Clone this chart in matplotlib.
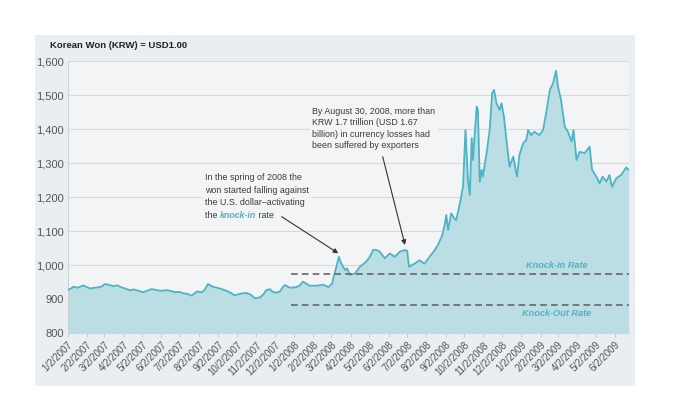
import matplotlib
matplotlib.use("Agg")
import matplotlib.pyplot as plt
from matplotlib.patches import Rectangle
import pandas as pd

# KRW per USD
dates = [
    "2007-01-02", "2007-01-08", "2007-01-11", "2007-01-18", "2007-01-27",
    "2007-02-07", "2007-02-18", "2007-02-25", "2007-03-03", "2007-03-09",
    "2007-03-16", "2007-03-23", "2007-03-30", "2007-04-06", "2007-04-12",
    "2007-04-19", "2007-04-26", "2007-05-04", "2007-05-10", "2007-05-17",
    "2007-05-24", "2007-05-31", "2007-06-10", "2007-06-17", "2007-06-24",
    "2007-07-01", "2007-07-07", "2007-07-14", "2007-07-21", "2007-07-29",
    "2007-08-06", "2007-08-10", "2007-08-16", "2007-08-20", "2007-08-24",
    "2007-09-04", "2007-09-15", "2007-09-22", "2007-09-28", "2007-10-09",
    "2007-10-16", "2007-10-23", "2007-10-31", "2007-11-08", "2007-11-14",
    "2007-11-18", "2007-11-24", "2007-11-29", "2007-12-05", "2007-12-10",
    "2007-12-15", "2007-12-18", "2007-12-26",
    "2008-01-06", "2008-01-11", "2008-01-16", "2008-01-22", "2008-01-27",
    "2008-02-07", "2008-02-18", "2008-02-26", "2008-03-03", "2008-03-05",
    "2008-03-10", "2008-03-14", "2008-03-18", "2008-03-24", "2008-03-27",
    "2008-04-01", "2008-04-09", "2008-04-17", "2008-04-27", "2008-05-03",
    "2008-05-08", "2008-05-13", "2008-05-19", "2008-05-27", "2008-06-04",
    "2008-06-12", "2008-06-20", "2008-06-28", "2008-07-02", "2008-07-05",
    "2008-07-14", "2008-07-22", "2008-07-30", "2008-08-07", "2008-08-14",
    "2008-08-21", "2008-08-28", "2008-09-01", "2008-09-03", "2008-09-06",
    "2008-09-11", "2008-09-15", "2008-09-19", "2008-09-25", "2008-09-30",
    "2008-10-04", "2008-10-08", "2008-10-11", "2008-10-14", "2008-10-16",
    "2008-10-22", "2008-10-24", "2008-10-27", "2008-10-30", "2008-11-01",
    "2008-11-07", "2008-11-12", "2008-11-16", "2008-11-19", "2008-11-23",
    "2008-11-28", "2008-12-01", "2008-12-05", "2008-12-09", "2008-12-14",
    "2008-12-20", "2008-12-26", "2008-12-30",
    "2009-01-05", "2009-01-10", "2009-01-13", "2009-01-18", "2009-01-23",
    "2009-01-31", "2009-02-06", "2009-02-11", "2009-02-17", "2009-02-22",
    "2009-02-27", "2009-03-02", "2009-03-07", "2009-03-13", "2009-03-18",
    "2009-03-24", "2009-03-27", "2009-04-01", "2009-04-06", "2009-04-14",
    "2009-04-22", "2009-04-26", "2009-05-03", "2009-05-08", "2009-05-13",
    "2009-05-19", "2009-05-24", "2009-05-28", "2009-06-04", "2009-06-12",
    "2009-06-20", "2009-06-24",
]
krw = [
    926, 932, 936, 933, 940,
    931, 934, 936, 944, 942,
    938, 940, 934, 930, 926,
    928, 924, 920, 924, 929,
    927, 924, 926, 924, 920,
    921, 917, 915, 910, 922,
    920, 925, 944, 940, 936,
    931, 924, 918, 911, 916,
    918, 914, 902, 905, 915,
    926, 929, 920, 919, 922,
    936, 941, 933,
    935, 940, 951, 945, 939,
    939, 942, 935, 945, 961,
    995, 1024, 1004, 985, 990,
    971, 975, 995, 1010, 1024,
    1044, 1045, 1039, 1020, 1034,
    1024, 1039, 1044, 1042, 995,
    1004, 1014, 1004, 1024, 1040,
    1060, 1090, 1123, 1147, 1103,
    1152, 1140, 1132, 1181, 1230,
    1397, 1250, 1206, 1373, 1309,
    1466, 1456, 1245, 1280, 1260,
    1329, 1397, 1505, 1515, 1476,
    1456, 1476, 1436, 1368, 1289,
    1319, 1260, 1324,
    1358, 1368, 1397, 1382, 1392,
    1382, 1397, 1446, 1515, 1534,
    1571, 1525, 1485, 1407, 1392,
    1363, 1397, 1309, 1333, 1329,
    1348, 1280, 1260, 1240, 1260,
    1245, 1265, 1230, 1255, 1265,
    1287, 1280,
]

tick_dates = [
    "2007-01-02", "2007-02-02", "2007-03-02", "2007-04-02", "2007-05-02",
    "2007-06-02", "2007-07-02", "2007-08-02", "2007-09-02", "2007-10-02",
    "2007-11-02", "2007-12-02", "2008-01-02", "2008-02-02", "2008-03-02",
    "2008-04-02", "2008-05-02", "2008-06-02", "2008-07-02", "2008-08-02",
    "2008-09-02", "2008-10-02", "2008-11-02", "2008-12-02", "2009-01-02",
    "2009-02-02", "2009-03-02", "2009-04-02", "2009-05-02", "2009-06-02",
]
tick_labels = [
    "1/2/2007", "2/2/2007", "3/2/2007", "4/2/2007", "5/2/2007",
    "6/2/2007", "7/2/2007", "8/2/2007", "9/2/2007", "10/2/2007",
    "11/2/2007", "12/2/2007", "1/2/2008", "2/2/2008", "3/2/2008",
    "4/2/2008", "5/2/2008", "6/2/2008", "7/2/2008", "8/2/2008",
    "9/2/2008", "10/2/2008", "11/2/2008", "12/2/2008", "1/2/2009",
    "2/2/2009", "3/2/2009", "4/2/2009", "5/2/2009", "6/2/2009",
]

knock_in = 975
knock_out = 882
barrier_start = "2007-12-28"

plt.rcParams["font.family"] = ["Liberation Sans Narrow", "Liberation Sans", "DejaVu Sans"]

teal = "#4db3c5"
fill = "#badee3"
plot_bg = "#f3f4f5"
panel_bg = "#e8eef2"
txt = "#3a3a3a"

x = pd.to_datetime(dates)

fig = plt.figure(figsize=(7, 3.94), dpi=100)
fig.patch.set_facecolor("white")
panel = Rectangle((35 / 700, 1 - 386 / 394), 600 / 700, 351 / 394,
                  transform=fig.transFigure, facecolor=panel_bg,
                  edgecolor="none", zorder=-5)
fig.add_artist(panel)

ax = fig.add_axes([67.7 / 700, 61 / 394, 561.6 / 700, 272 / 394])
ax.set_zorder(1)
ax.set_facecolor(plot_bg)

ax.fill_between(x, 800, krw, color=fill, lw=0, zorder=2)
ax.plot(x, krw, color=teal, lw=1.3, zorder=3)

bx = pd.to_datetime([barrier_start, "2009-06-26"])
ax.plot(bx, [knock_in, knock_in], color="#666666", lw=1.2, ls=(0, (4, 2.5)), zorder=4)
ax.plot(bx, [knock_out, knock_out], color="#666666", lw=1.2, ls=(0, (4, 2.5)), zorder=4)

ax.set_ylim(800, 1600)
ax.set_xlim(pd.Timestamp("2007-01-02"), pd.Timestamp("2009-06-25"))
ax.set_yticks(range(800, 1601, 100))
ax.set_yticklabels([f"{v:,}" for v in range(800, 1601, 100)])
ax.set_xticks(pd.to_datetime(tick_dates))
ax.set_xticklabels(tick_labels, rotation=45, ha="right", rotation_mode="anchor")
ax.tick_params(axis="x", length=3, color="#c8cccf", labelsize=7,
               labelcolor="#555555", pad=2)
ax.tick_params(axis="y", length=0, labelsize=8, labelcolor="#555555", pad=3)
ax.grid(axis="y", color="#d6d9db", lw=0.8, zorder=1)
ax.set_axisbelow(True)
for s in ["top", "right"]:
    ax.spines[s].set_visible(False)
ax.spines["left"].set_color("#cfd3d6")
ax.spines["bottom"].set_color("#cfd3d6")


def axpos(px, py):
    return ((px - 67.7) / 561.6, (333 - py) / 272)


fig.text(50 / 700, 1 - 46 / 394, "Korean Won (KRW) = USD1.00", fontsize=6.8,
         fontweight="bold", color="#222222", va="center", ha="left")

# spring 2008 note
note = dict(fontsize=6.4, color=txt, ha="left", transform=ax.transAxes, zorder=5)
ax.text(*axpos(205, 190), "In the spring of 2008 the\nwon started falling against\nthe U.S. dollar\u2013activating",
        va="center", linespacing=1.45,
        bbox=dict(facecolor=plot_bg, edgecolor="none", pad=2), **note)
t2 = ax.text(*axpos(205, 215.7), "the ", va="center", **note)
t3 = ax.annotate("knock-in", xy=(1, 0), xycoords=t2, va="bottom", ha="left",
                 fontsize=6.4, color=teal, fontweight="bold", fontstyle="italic",
                 zorder=5)
ax.annotate(" rate", xy=(1, 0), xycoords=t3, va="bottom", ha="left",
            fontsize=6.4, color=txt, zorder=5)

# August 2008 note
ax.text(*axpos(312.5, 128.5),
        "By August 30, 2008, more than\nKRW 1.7 trillion (USD 1.67\nbillion) in currency losses had\nbeen suffered by exporters",
        va="center", linespacing=1.37,
        bbox=dict(facecolor=plot_bg, edgecolor="none", pad=2), **note)

arrow = dict(arrowstyle="-|>", color="#333333", lw=0.8, mutation_scale=7,
             shrinkA=0, shrinkB=0)
ax.annotate("", xy=axpos(338.3, 253.3), xytext=axpos(281.7, 216.7),
            xycoords="axes fraction", textcoords="axes fraction",
            arrowprops=arrow, zorder=6)
ax.annotate("", xy=axpos(405, 245), xytext=axpos(382.7, 156.7),
            xycoords="axes fraction", textcoords="axes fraction",
            arrowprops=arrow, zorder=6)

rate = dict(fontsize=6.6, color=teal, fontweight="bold", fontstyle="italic",
            ha="center", va="center", transform=ax.transAxes, zorder=5)
ax.text(*axpos(556.7, 266), "Knock-In Rate", **rate)
ax.text(*axpos(556.7, 313.5), "Knock-Out Rate", **rate)

fig.savefig("out.png", dpi=100, facecolor=fig.get_facecolor())
